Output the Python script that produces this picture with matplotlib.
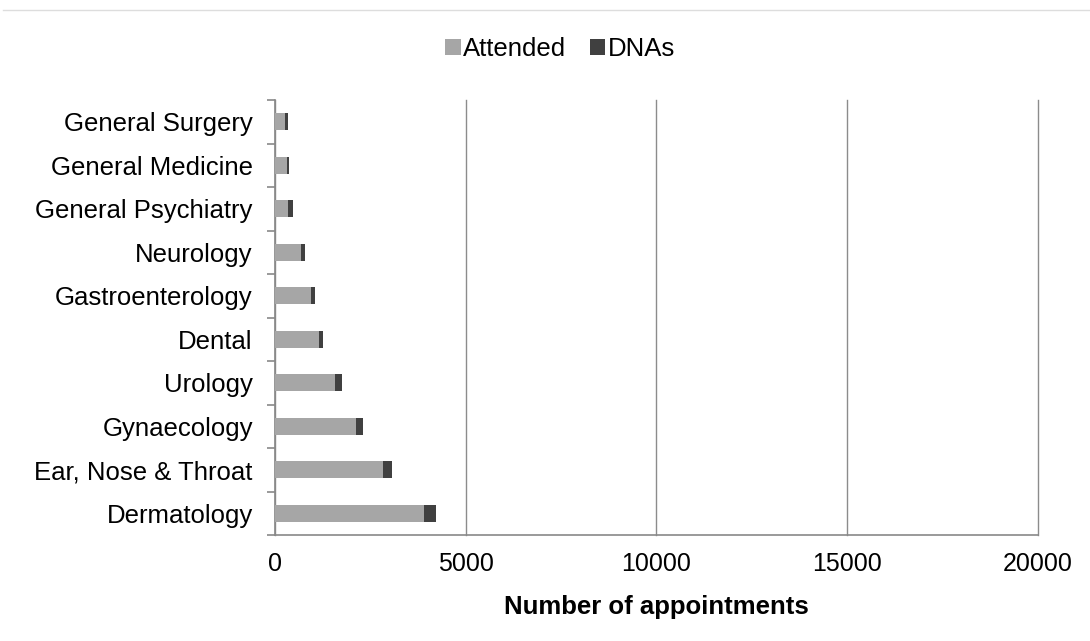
import matplotlib.pyplot as plt
from matplotlib.lines import Line2D

plt.rcParams['font.family'] = ['Liberation Sans', 'DejaVu Sans']

# outpatient appointments by specialty, bottom to top as drawn
specialties = ['Dermatology', 'Ear, Nose & Throat', 'Gynaecology', 'Urology', 'Dental',
               'Gastroenterology', 'Neurology', 'General Psychiatry', 'General Medicine',
               'General Surgery']
attended = [3900, 2830, 2120, 1560, 1150, 950, 680, 350, 305, 270]
dnas = [310, 225, 175, 190, 105, 100, 95, 130, 75, 70]
xticks = [0, 5000, 10000, 15000, 20000]

fig = plt.figure(figsize=(10.9, 6.41), dpi=100)
ax = fig.add_axes([275 / 1090, 1 - 535 / 641, (1038 - 275) / 1090, 435 / 641])

ypos = list(range(len(specialties)))
ax.barh(ypos, attended, height=0.4, color='#A6A6A6', label='Attended', zorder=3)
ax.barh(ypos, dnas, left=attended, height=0.4, color='#404040', label='DNAs', zorder=3)

ax.set_xlim(0, 20000)
ax.set_ylim(-0.5, len(specialties) - 0.5)
ax.set_xticks(xticks)
ax.set_xticklabels([str(t) for t in xticks], fontsize=18)
ax.set_yticks(ypos)
ax.set_yticklabels(specialties, fontsize=18.5)
ax.set_yticks([y - 0.5 for y in range(len(specialties) + 1)], minor=True)
ax.tick_params(axis='y', which='major', length=0, pad=16)
ax.tick_params(axis='y', which='minor', length=6, color='#898989', width=1.2)
ax.tick_params(axis='x', length=0, pad=12)

ax.grid(axis='x', color='#8c8c8c', linewidth=1.0, zorder=0)
for gl in ax.get_xgridlines():
    gl.set_clip_on(False)
for s in ['top', 'right']:
    ax.spines[s].set_visible(False)
for s in ['left', 'bottom']:
    ax.spines[s].set_color('#898989')
    ax.spines[s].set_linewidth(1.2)

ax.set_xlabel('Number of appointments', fontsize=18.5, fontweight='bold', labelpad=14)

fig.legend(loc='center', bbox_to_anchor=(560 / 1090, 1 - 49 / 641), ncol=2, frameon=False,
           fontsize=18.5, handlelength=0.6, handleheight=0.6, handletextpad=0.1,
           columnspacing=0.9)

fig.add_artist(Line2D([3 / 1090, 1], [1 - 10 / 641] * 2, color='#dddddd', linewidth=1))

fig.savefig('out.png', dpi=100)
